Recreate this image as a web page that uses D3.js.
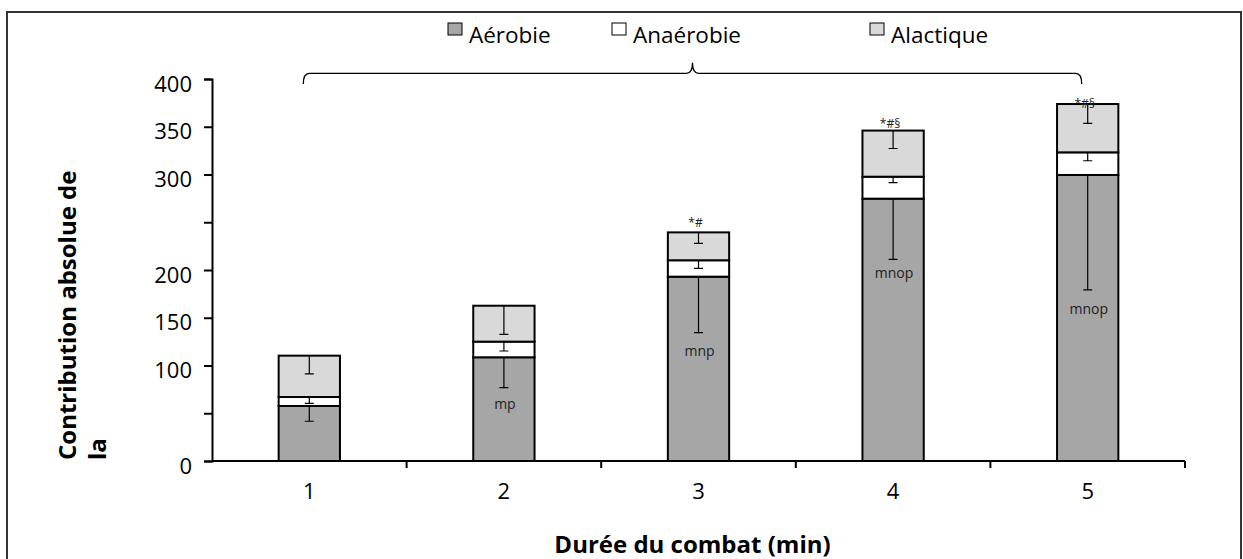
<!DOCTYPE html>
<html lang="fr">
<head>
  <meta charset="UTF-8" />
  <title>Contribution absolue - durée du combat</title>
  <style>
    body { margin: 0; padding: 0; background: #fff; }
    svg { display: block; font-family: "Open Sans", sans-serif; }
    .axis path, .axis line { stroke: #000; stroke-width: 2px; fill: none; }
    .axis text { font-size: 22px; fill: #000; font-family: "Open Sans", sans-serif; }
    .bar { stroke: #000; stroke-width: 2px; }
    .err { stroke: #000; stroke-width: 1.2px; fill: none; }
    .lbl { font-size: 14px; fill: #222; text-anchor: middle; }
    .sig { font-size: 12px; fill: #222; text-anchor: middle; }
    .title { font-weight: bold; font-size: 24px; fill: #000; }
    .legend text { font-size: 22.5px; fill: #000; }
  </style>
</head>
<body>
  <svg id="chart" width="1243" height="559"></svg>
  <script src="https://d3js.org/d3.v7.min.js"></script>
  <script>
    // données
    const durees = ["1", "2", "3", "4", "5"];
    const aerobie = [57.6, 108.6, 193, 274.7, 299.5];
    const anaerobie = [9.4, 16.4, 17.2, 23, 23.7];
    const alactique = [43.3, 37.6, 29.2, 48.3, 50.6];
    const errAerobie = [16, 31.8, 58.6, 63.5, 120.4];
    const errAnaerobie = [6.6, 9.8, 8.4, 6.3, 8.8];
    const errAlactique = [19, 30, 11.5, 18.8, 20.2];
    const lettres = ["", "mp", "mnp", "mnop", "mnop"];
    const lettresY = [0, 59.7, 115.5, 196.5, 159];
    const symboles = ["", "", "*#", "*#§", "*#§"];
    const symbolesY = [0, 0, 249.5, 353.6, 374.5];
    const yTicks = [0, 50, 100, 150, 200, 250, 300, 350, 400];
    const yLabels = ["0", "", "100", "150", "200", "", "300", "350", "400"];

    const series = [
      { key: "Aérobie", fill: "#a6a6a6", vals: aerobie, err: errAerobie },
      { key: "Anaérobie", fill: "#ffffff", vals: anaerobie, err: errAnaerobie },
      { key: "Alactique", fill: "#d9d9d9", vals: alactique, err: errAlactique }
    ];
    const legendX = [448, 612, 870];

    const svg = d3.select("#chart");

    // cadre
    svg.append("rect")
      .attr("x", 7).attr("y", 12)
      .attr("width", 1234).attr("height", 570)
      .attr("fill", "none").attr("stroke", "#333").attr("stroke-width", 2);

    const pLeft = 212, pRight = 1185, pTop = 79, pBottom = 461;

    const x = d3.scaleBand().domain(durees).range([pLeft, pRight])
      .paddingInner(0.685).paddingOuter(0.3425);
    const xEdge = d3.scaleLinear().domain([0, durees.length]).range([pLeft, pRight]);
    const y = d3.scaleLinear().domain([0, 400]).range([pBottom, pTop]);

    const rows = durees.map((d, i) => {
      const r = { duree: d };
      series.forEach(s => { r[s.key] = s.vals[i]; });
      return r;
    });
    const stacked = d3.stack().keys(series.map(s => s.key))(rows);

    // barres empilées
    stacked.forEach((layer, li) => {
      svg.append("g").selectAll("rect")
        .data(layer)
        .join("rect")
        .attr("class", "bar")
        .attr("fill", series[li].fill)
        .attr("x", d => x(d.data.duree))
        .attr("width", x.bandwidth())
        .attr("y", d => y(d[1]))
        .attr("height", d => y(d[0]) - y(d[1]));
    });

    // barres d'erreur (vers le bas)
    stacked.forEach((layer, li) => {
      const g = svg.append("g");
      layer.forEach((d, i) => {
        const cx = x(d.data.duree) + x.bandwidth() / 2;
        const y0 = y(d[1]);
        const y1 = y(d[1] - series[li].err[i]);
        g.append("path").attr("class", "err")
          .attr("d", `M${cx},${y0}V${y1}M${cx - 4.5},${y1}H${cx + 4.5}`);
      });
    });

    // lettres
    svg.append("g").selectAll("text")
      .data(durees)
      .join("text")
      .attr("class", "lbl")
      .attr("x", d => x(d) + x.bandwidth() / 2 + 1)
      .attr("y", (d, i) => y(lettresY[i]))
      .attr("dy", "0.35em")
      .text((d, i) => lettres[i]);

    svg.append("g").selectAll("text")
      .data(durees)
      .join("text")
      .attr("class", "sig")
      .attr("x", d => x(d) + x.bandwidth() / 2 - 3)
      .attr("y", (d, i) => y(symbolesY[i]))
      .attr("dy", "0.35em")
      .text((d, i) => symboles[i]);

    // axe Y
    const yAxis = d3.axisLeft(y)
      .tickValues(yTicks)
      .tickFormat((d, i) => yLabels[i])
      .tickSizeInner(8).tickSizeOuter(8).tickPadding(12);
    const gy = svg.append("g").attr("class", "axis")
      .attr("transform", `translate(${pLeft},0)`)
      .call(yAxis);
    gy.selectAll("text").attr("dy", "0.55em");

    // axe X (graduations entre les catégories)
    const gx = svg.append("g").attr("class", "axis");
    gx.append("path").attr("d", `M${pLeft},${pBottom}H${pRight}`);
    gx.selectAll("line")
      .data(d3.range(1, durees.length + 1))
      .join("line")
      .attr("x1", d => xEdge(d)).attr("x2", d => xEdge(d))
      .attr("y1", pBottom).attr("y2", pBottom + 7);
    gx.selectAll("text")
      .data(durees)
      .join("text")
      .attr("x", d => x(d) + x.bandwidth() / 2)
      .attr("y", pBottom + 38)
      .attr("text-anchor", "middle")
      .text(d => d);

    // titres
    svg.append("text").attr("class", "title")
      .attr("x", (pLeft + pRight) / 2 - 6).attr("y", 553)
      .attr("text-anchor", "middle")
      .text("Durée du combat (min)");

    const yt = svg.append("g").attr("class", "title");
    yt.append("text")
      .attr("transform", "translate(76,460) rotate(-90)")
      .text("Contribution absolue de");
    yt.append("text")
      .attr("transform", "translate(106,460) rotate(-90)")
      .text("la");

    // accolade
    const bx0 = x(durees[0]) + x.bandwidth() / 2 - 6;
    const bx1 = x(durees[durees.length - 1]) + x.bandwidth() / 2 - 6;
    const bm = (bx0 + bx1) / 2;
    const by = pTop - 5.7, r = 6;
    svg.append("path")
      .attr("fill", "none").attr("stroke", "#000").attr("stroke-width", 1.3)
      .attr("d", `M${bx0},${by + 10.7}Q${bx0},${by} ${bx0 + r},${by}H${bm - r}` +
        `Q${bm},${by} ${bm},${by - 10.5}Q${bm},${by} ${bm + r},${by}H${bx1 - r}` +
        `Q${bx1},${by} ${bx1},${by + 10.7}`);

    // légende
    const lg = svg.append("g").attr("class", "legend");
    series.forEach((s, i) => {
      lg.append("rect")
        .attr("x", legendX[i]).attr("y", 23)
        .attr("width", 14).attr("height", 12)
        .attr("fill", s.fill).attr("stroke", "#000").attr("stroke-width", 1);
      lg.append("text")
        .attr("x", legendX[i] + 21).attr("y", 43)
        .text(s.key);
    });
  </script>
</body>
</html>
